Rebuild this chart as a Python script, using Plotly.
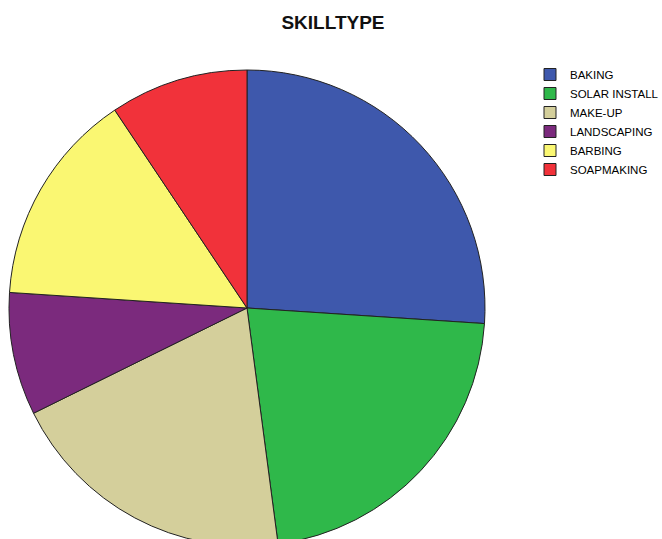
import plotly.graph_objects as go

categories = ["BAKING", "SOLAR INSTALL", "MAKE-UP", "LANDSCAPING", "BARBING", "SOAPMAKING"]
counts = [25, 21, 19, 8, 14, 9]
colors = ["#3E58AC", "#2FB84A", "#D4CF9B", "#7B2A7D", "#FAF772", "#F1323A"]

W, H = 662, 560
# pie geometry in pixels (from top-left)
cx, cy, r = 247, 308, 238

fig = go.Figure(go.Pie(
    labels=categories,
    values=counts,
    sort=False,
    direction="clockwise",
    rotation=0,
    marker=dict(colors=colors, line=dict(color="#222222", width=1)),
    textinfo="none",
    hoverinfo="label+value+percent",
    domain=dict(x=[(cx - r) / W, (cx + r) / W],
                y=[1 - (cy + r) / H, 1 - (cy - r) / H]),
))

fig.update_layout(
    width=W, height=H,
    margin=dict(l=0, r=0, t=0, b=0, autoexpand=False),
    paper_bgcolor="white",
    plot_bgcolor="white",
    font=dict(family="Liberation Sans, Arial, sans-serif", color="#000000"),
    title=dict(text="<b>SKILLTYPE</b>", x=333 / W, xanchor="center",
               y=1 - 22 / H, yanchor="middle", yref="container",
               font=dict(size=19, family="Liberation Sans, Arial, sans-serif", color="#111111")),
    showlegend=True,
    legend=dict(x=530 / W, xanchor="left", y=1 - 60 / H, yanchor="top",
                font=dict(size=11.5, family="Liberation Sans, Arial, sans-serif", color="#000000"),
                bgcolor="rgba(0,0,0,0)", borderwidth=0, traceorder="normal"),
)

fig.write_html("out.html", config={"displayModeBar": False},
               post_script="document.body.style.margin='0';document.body.style.overflow='hidden';")
